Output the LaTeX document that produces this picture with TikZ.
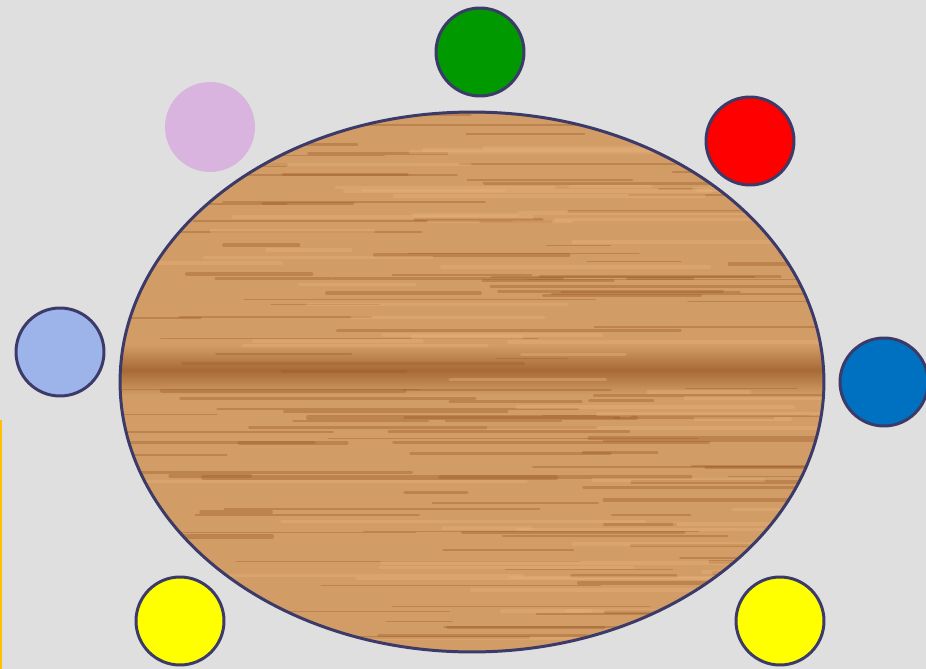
\documentclass[tikz,border=0pt]{standalone}
\usetikzlibrary{shapes.geometric,patterns}

\definecolor{bggray}{HTML}{DFDFDF}
\definecolor{rim}{HTML}{3B3A68}
\definecolor{woodbase}{HTML}{D29C66}
\definecolor{wooddark}{HTML}{9C5E2C}
\definecolor{woodlight}{HTML}{E8B27C}
\definecolor{seatgreen}{HTML}{009900}
\definecolor{seatred}{HTML}{FF0000}
\definecolor{seatblue}{HTML}{0070C0}
\definecolor{seatyellow}{HTML}{FFFF00}
\definecolor{seatsky}{HTML}{9DB4EB}
\definecolor{seatlilac}{HTML}{D9B4DE}
\definecolor{edgeyellow}{HTML}{FFC000}

\tikzset{
  seat/.style={circle,draw=rim,line width=1.7pt,minimum size=1.76cm,inner sep=0pt},
  grain/.style={line cap=round,opacity=0.4}
}

\begin{document}
\begin{tikzpicture}[x=0.02cm,y=-0.02cm]
  \useasboundingbox (0,0) rectangle (926,669);
  % background
  \fill[bggray] (0,0) rectangle (926,669);
  \fill[pattern=dots,pattern color=black!12] (0,0) rectangle (926,669);
  \draw[edgeyellow,line width=1.5pt] (1,420) -- (1,669);
  % table
  \begin{scope}
    \clip (472,382) ellipse [x radius=352,y radius=270];
    \fill[woodbase] (110,105) rectangle (830,660);
    \shade[top color=woodbase,bottom color=woodbase,middle color=wooddark!80!woodbase] (110,345) rectangle (830,395);
    \pgfmathsetseed{11}
    \foreach \i in {1,...,140}{
      \pgfmathsetmacro{\gy}{112+rnd*540}
      \pgfmathsetmacro{\gx}{90+rnd*650}
      \pgfmathsetmacro{\gl}{60+rnd*320}
      \pgfmathsetmacro{\gw}{0.6+rnd*1.8}
      \draw[grain,wooddark,line width=\gw pt] (\gx,\gy) -- ++(\gl,0);
    }
    \foreach \i in {1,...,60}{
      \pgfmathsetmacro{\gy}{112+rnd*540}
      \pgfmathsetmacro{\gx}{90+rnd*650}
      \pgfmathsetmacro{\gl}{80+rnd*320}
      \draw[grain,woodlight,line width=2pt] (\gx,\gy) -- ++(\gl,0);
    }
  \end{scope}
  \node[ellipse,draw=rim,line width=1.7pt,minimum width=14.08cm,minimum height=10.8cm,inner sep=0pt] (table) at (472,382) {};
  % seats
  \node[seat,fill=seatgreen] (green) at (480,52) {};
  \node[seat,fill=seatred] (red) at (750,141) {};
  \node[seat,fill=seatblue] (blue) at (884,382) {};
  \node[seat,fill=seatyellow] (yellowright) at (780,621) {};
  \node[seat,fill=seatyellow] (yellowleft) at (180,621) {};
  \node[seat,fill=seatsky] (sky) at (60,352) {};
  \node[seat,draw=none,fill=seatlilac,minimum size=1.8cm] (lilac) at (210,127) {};
\end{tikzpicture}
\end{document}
